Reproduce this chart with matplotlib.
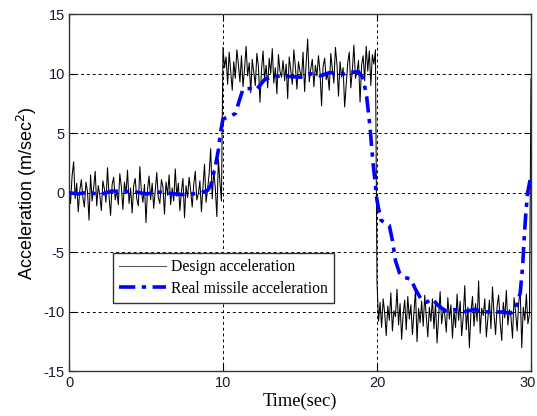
import numpy as np
import matplotlib
matplotlib.use("Agg")
import matplotlib.pyplot as plt
import matplotlib.transforms as mtransforms

plt.rcParams["axes.unicode_minus"] = False

# ---- data ----
design_seg1 = [0.3,-0.9,1.4,2.6,-0.5,0.8,-1.6,0.2,1.1,-0.4,
 -1.2,0.9,0.1,-2.3,1.5,-0.7,0.4,1.8,-1.1,0.6,
 -0.2,-1.5,1.0,0.3,-0.8,2.1,-0.3,-1.9,0.7,1.3,
 -0.6,0.2,-1.0,1.6,0.5,-1.4,0.9,-0.1,1.9,-0.9,
 0.4,-1.7,0.6,1.2,-0.5,-1.1,2.2,0.1,-0.8,0.7,
 -2.5,0.3,1.4,-0.6,0.8,-1.3,0.2,1.7,-0.4,-0.9,
 1.1,0.5,-1.8,0.9,-0.2,1.5,-1.0,0.4,-0.7,2.0,
 -0.3,0.8,-1.5,0.1,1.2,-2.1,0.6,-0.4,1.3,0.2,
 -1.2,0.7,1.8,-0.6,-0.1,1.0,-1.6,0.5,2.4,-0.8,
 0.3,1.6,3.7,-0.5,1.9,0.4,-2.0,2.8,0.9,-0.7]
design_seg2 = [12.2,10.5,11.4,9.1,11.8,10.2,8.6,11.0,9.6,12.0,
 10.8,9.3,11.5,8.9,10.4,12.3,9.8,10.9,8.4,11.2,
 10.1,9.0,11.7,10.6,7.6,10.3,11.9,9.5,10.7,8.8,
 11.3,10.0,12.1,9.2,10.5,8.3,11.6,10.2,9.7,11.1,
 9.4,10.8,7.9,11.4,10.3,9.1,12.0,10.6,8.7,11.0,
 10.2,9.6,11.8,8.5,10.9,12.9,9.3,10.4,11.2,8.9,
 10.7,9.8,11.5,10.1,7.3,10.6,11.3,9.5,10.0,8.6,
 11.7,10.4,9.2,12.2,10.8,8.1,11.0,9.7,10.5,7.2,
 9.0,10.9,11.8,8.8,10.3,12.4,9.6,10.1,11.1,7.6,
 10.7,11.5,9.4,12.3,10.2,11.9,9.0,11.6,10.8,12.0]
design_seg3 = [-7.5,-10.8,-9.2,-11.3,-8.9,-10.1,-12.0,-9.5,-10.7,-8.4,
 -11.6,-9.9,-10.4,-8.1,-11.1,-9.3,-12.3,-10.2,-9.0,-11.5,
 -8.7,-10.6,-9.4,-11.9,-10.0,-8.2,-12.5,-9.7,-10.9,-9.1,
 -11.2,-8.6,-10.3,-12.1,-9.6,-10.8,-8.9,-11.4,-9.2,-12.6,
 -10.5,-8.3,-11.0,-9.8,-10.2,-11.7,-8.8,-10.6,-9.4,-12.2,
 -9.9,-11.3,-8.5,-10.7,-9.1,-12.0,-10.4,-7.8,-11.5,-9.6,
 -13.0,-10.1,-8.7,-11.2,-9.3,-10.8,-7.4,-11.8,-9.7,-10.3,
 -8.9,-12.1,-10.6,-9.0,-11.4,-7.9,-10.2,-11.9,-9.5,-8.6,
 -10.9,-12.4,-9.2,-10.5,-8.2,-11.1,-9.8,-10.4,-12.2,-8.8,
 -10.0,-11.6,-9.3,-8.1,-13.0,-9.6,-10.7,-8.5,-11.0,-10.2]
design_last = [9.6]
design_values = design_seg1 + design_seg2 + design_seg3 + design_last
design_time = np.linspace(0, 30, len(design_values))

real_time = [0, 0.6, 1.2, 2.0, 2.8, 3.5, 4.2, 5.0, 5.8, 6.5,
 7.3, 8.0, 8.6, 9.0, 9.2, 9.5, 9.7, 9.8, 9.9, 10.0,
 10.45, 10.8, 11.1, 11.3, 11.75, 12.1, 12.4, 12.7, 13.15, 13.7,
 14.35, 15.0, 15.65, 16.3, 16.95, 17.6, 18.25, 18.8, 19.1, 19.33,
 19.55, 19.65, 19.75, 19.87, 19.97, 20.1, 20.26, 20.48, 20.8, 21.0,
 21.2, 21.45, 21.77, 22.2, 22.5, 22.85, 23.2, 23.6, 24.0, 24.45,
 25.0, 25.6, 26.3, 27.15, 28.0, 28.7, 29.0, 29.3, 29.45, 29.55,
 29.66, 29.77, 30.0]
real_values = [0.0, -0.1, 0.05, -0.15, 0.15, 0.1, 0.1, -0.1, 0.05, -0.05,
 -0.15, -0.1, 0.0, 0.2, 0.6, 2.2, 3.6, 4.7, 5.5, 6.2,
 6.4, 6.65, 7.9, 8.7, 8.75, 8.6, 9.0, 9.5, 9.7, 9.8,
 9.75, 9.7, 10.0, 9.8, 10.1, 9.9, 10.1, 10.15, 9.6, 8.05,
 5.5, 3.85, 2.4, 1.0, -0.4, -1.3, -2.3, -2.5, -2.75, -4.0,
 -5.7, -6.7, -7.1, -7.25, -8.1, -8.9, -9.2, -8.9, -9.5, -9.9,
 -9.8, -10.0, -9.8, -10.0, -10.0, -10.1, -9.8, -8.4, -6.3, -4.0,
 -1.8, -0.1, 1.5]

x_ticks = [0, 10, 20, 30]
y_ticks = [-15, -10, -5, 0, 5, 10, 15]
labels = ["Design acceleration", "Real missile acceleration"]

# ---- figure ----
fig = plt.figure(figsize=(5.37, 4.16), dpi=100)
ax = fig.add_axes([0.1285, 0.107, 0.8603, 0.8593])

ax.plot(design_time, design_values, color="black", lw=0.75, label=labels[0], zorder=2)
ax.plot(real_time, real_values, color="#0000ff", lw=2.6,
        linestyle=(0, (4.5, 1.8, 1.2, 1.8)), label=labels[1], zorder=3)

ax.set_xlim(0, 30)
ax.set_ylim(-15, 15)
ax.set_xticks(x_ticks)
ax.set_yticks(y_ticks)
ax.grid(True, color="black", linestyle=(0, (3, 3)), linewidth=0.7)
ax.tick_params(direction="in", length=5, top=True, right=True,
               labelsize=10.5, labelcolor="#1a1a33", pad=3)
for lab in ax.get_xticklabels() + ax.get_yticklabels():
    lab.set_fontfamily("Liberation Sans")
# keep the last x tick label inside the canvas
last = ax.get_xticklabels()[-1]
last.set_transform(last.get_transform() +
                   mtransforms.ScaledTranslation(-3 / 100, 0, fig.dpi_scale_trans))
for s in ax.spines.values():
    s.set_color("#333333")
    s.set_linewidth(1.0)

ax.set_xlabel("Time(sec)", fontfamily="Liberation Serif", fontsize=13.3, labelpad=2)
ax.set_ylabel("Acceleration (m/sec$^2$)", fontfamily="Liberation Sans", fontsize=13, labelpad=3)

leg = ax.legend(loc="upper left", bbox_to_anchor=(0.095, 0.331), borderaxespad=0,
                prop={"family": "Liberation Serif", "size": 11.3},
                fancybox=False, framealpha=1, edgecolor="#333333",
                handlelength=3.0, handletextpad=0.3, borderpad=0.4, labelspacing=0.35)
leg.get_frame().set_linewidth(1.0)
leg.get_lines()[0].set_color("#555555")

fig.savefig("out.png", dpi=100)
